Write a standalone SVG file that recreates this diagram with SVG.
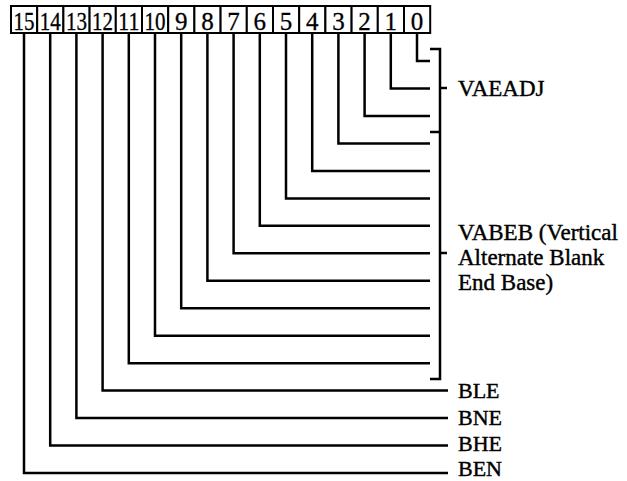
<svg xmlns="http://www.w3.org/2000/svg" width="627" height="481" viewBox="0 0 627 481">
<style>
.box{fill:#fff;stroke:#000;stroke-width:2}
.num{font-family:"Liberation Serif","Times New Roman",serif;font-size:25px;fill:#000;stroke:#000;stroke-width:0.3;text-anchor:middle}
.ln{fill:none;stroke:#000;stroke-width:2.5;stroke-linejoin:miter;stroke-linecap:butt}
.lbl{font-family:"Liberation Serif","Times New Roman",serif;font-size:23px;fill:#000;stroke:#000;stroke-width:0.4}
.sm{font-size:22px}
</style>
<rect width="627" height="481" fill="#fff"/>
<g id="register">
<g id="bit15"><rect class="box" x="11" y="6" width="26.2" height="27"/><text class="num" x="24" y="30" textLength="21" lengthAdjust="spacingAndGlyphs">15</text></g>
<g id="bit14"><rect class="box" x="37.2" y="6" width="26.2" height="27"/><text class="num" x="50.2" y="30" textLength="21" lengthAdjust="spacingAndGlyphs">14</text></g>
<g id="bit13"><rect class="box" x="63.4" y="6" width="26.2" height="27"/><text class="num" x="76.4" y="30" textLength="21" lengthAdjust="spacingAndGlyphs">13</text></g>
<g id="bit12"><rect class="box" x="89.6" y="6" width="26.2" height="27"/><text class="num" x="102.6" y="30" textLength="21" lengthAdjust="spacingAndGlyphs">12</text></g>
<g id="bit11"><rect class="box" x="115.8" y="6" width="26.2" height="27"/><text class="num" x="128.8" y="30" textLength="21" lengthAdjust="spacingAndGlyphs">11</text></g>
<g id="bit10"><rect class="box" x="142" y="6" width="26.2" height="27"/><text class="num" x="155" y="30" textLength="21" lengthAdjust="spacingAndGlyphs">10</text></g>
<g id="bit9"><rect class="box" x="168.2" y="6" width="26.2" height="27"/><text class="num" x="181.2" y="30">9</text></g>
<g id="bit8"><rect class="box" x="194.4" y="6" width="26.2" height="27"/><text class="num" x="207.4" y="30">8</text></g>
<g id="bit7"><rect class="box" x="220.6" y="6" width="26.2" height="27"/><text class="num" x="233.6" y="30">7</text></g>
<g id="bit6"><rect class="box" x="246.8" y="6" width="26.2" height="27"/><text class="num" x="259.8" y="30">6</text></g>
<g id="bit5"><rect class="box" x="273" y="6" width="26.2" height="27"/><text class="num" x="286" y="30">5</text></g>
<g id="bit4"><rect class="box" x="299.2" y="6" width="26.2" height="27"/><text class="num" x="312.2" y="30">4</text></g>
<g id="bit3"><rect class="box" x="325.4" y="6" width="26.2" height="27"/><text class="num" x="338.4" y="30">3</text></g>
<g id="bit2"><rect class="box" x="351.6" y="6" width="26.2" height="27"/><text class="num" x="364.6" y="30">2</text></g>
<g id="bit1"><rect class="box" x="377.8" y="6" width="26.2" height="27"/><text class="num" x="390.8" y="30">1</text></g>
<g id="bit0"><rect class="box" x="404" y="6" width="26.2" height="27"/><text class="num" x="417" y="30">0</text></g>
</g>
<g id="connectors">
<path class="ln" d="M417 33V61H430"/>
<path class="ln" d="M390.8 33V88.5H430"/>
<path class="ln" d="M364.6 33V115.9H430"/>
<path class="ln" d="M338.4 33V143.4H430"/>
<path class="ln" d="M312.2 33V170.9H430"/>
<path class="ln" d="M286 33V198.4H430"/>
<path class="ln" d="M259.8 33V225.8H430"/>
<path class="ln" d="M233.6 33V253.3H430"/>
<path class="ln" d="M207.4 33V280.8H430"/>
<path class="ln" d="M181.2 33V308.2H430"/>
<path class="ln" d="M155 33V335.7H430"/>
<path class="ln" d="M128.8 33V363.2H430"/>
<path class="ln" d="M102.6 33V390.6H448"/>
<path class="ln" d="M76.4 33V418.1H448"/>
<path class="ln" d="M50.2 33V445.6H448"/>
<path class="ln" d="M24 33V473H448"/>
</g>
<g id="brackets">
<path class="ln" d="M430 49H440V379H430"/>
<path class="ln" d="M430 132H440"/>
<path class="ln" d="M440 88H447"/>
<path class="ln" d="M440 253H447"/>
</g>
<g id="labels">
<text class="lbl" x="458" y="96">VAEADJ</text>
<text class="lbl" x="458" y="240">VABEB (Vertical</text>
<text class="lbl" x="458" y="265">Alternate Blank</text>
<text class="lbl" x="458" y="290">End Base)</text>
<text class="lbl sm" x="458" y="398">BLE</text>
<text class="lbl sm" x="458" y="425">BNE</text>
<text class="lbl sm" x="458" y="451">BHE</text>
<text class="lbl sm" x="458" y="476">BEN</text>
</g>
</svg>
